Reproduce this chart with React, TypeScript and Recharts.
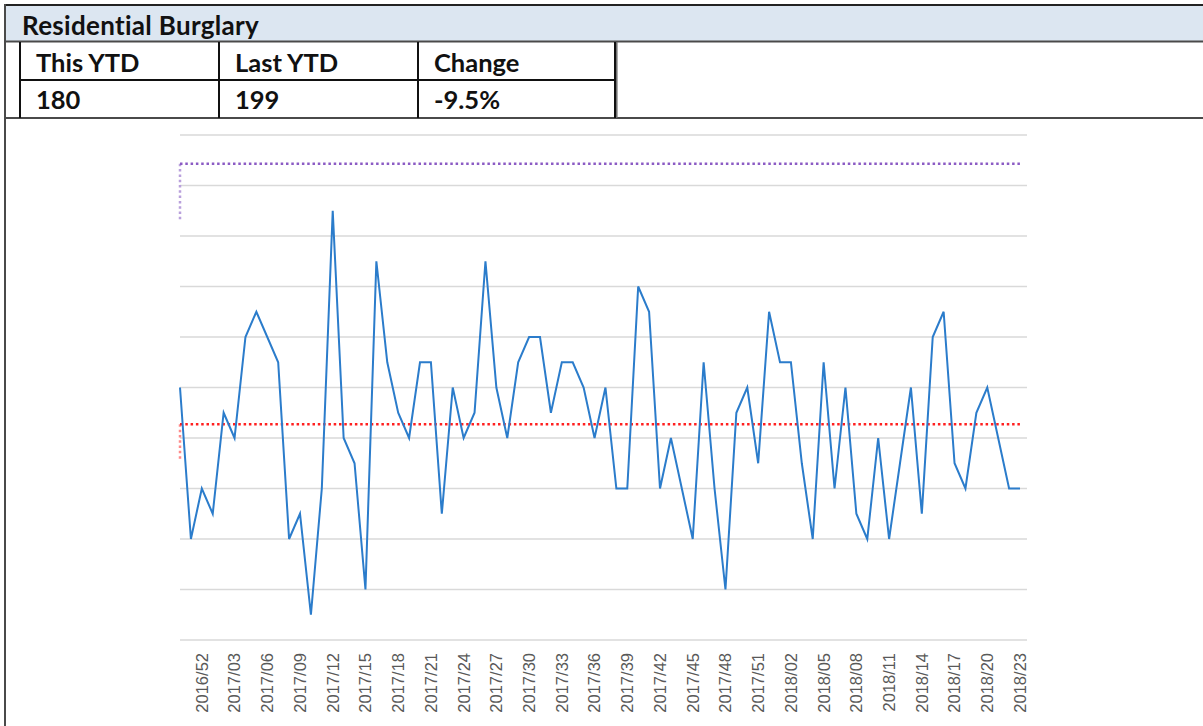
import { LineChart, Line, XAxis, YAxis, CartesianGrid, ReferenceLine } from "recharts";

const weeks = [
  "2016/50", "2016/51", "2016/52",
  "2017/01", "2017/02", "2017/03", "2017/04", "2017/05", "2017/06", "2017/07", "2017/08", "2017/09", "2017/10",
  "2017/11", "2017/12", "2017/13", "2017/14", "2017/15", "2017/16", "2017/17", "2017/18", "2017/19", "2017/20",
  "2017/21", "2017/22", "2017/23", "2017/24", "2017/25", "2017/26", "2017/27", "2017/28", "2017/29", "2017/30",
  "2017/31", "2017/32", "2017/33", "2017/34", "2017/35", "2017/36", "2017/37", "2017/38", "2017/39", "2017/40",
  "2017/41", "2017/42", "2017/43", "2017/44", "2017/45", "2017/46", "2017/47", "2017/48", "2017/49", "2017/50",
  "2017/51", "2017/52",
  "2018/01", "2018/02", "2018/03", "2018/04", "2018/05", "2018/06", "2018/07", "2018/08", "2018/09", "2018/10",
  "2018/11", "2018/12", "2018/13", "2018/14", "2018/15", "2018/16", "2018/17", "2018/18", "2018/19", "2018/20",
  "2018/21", "2018/22", "2018/23",
];

const burglaries = [
  10, 4, 6, 5, 9, 8, 12, 13, 12, 11, 4, 5, 1, 6, 17, 8, 7, 2, 15, 11, 9, 8, 11, 11, 5, 10,
  8, 9, 15, 10, 8, 11, 12, 12, 9, 11, 11, 10, 8, 10, 6, 6, 14, 13, 6, 8, 6, 4, 11, 6, 2, 9,
  10, 7, 13, 11, 11, 7, 4, 11, 6, 10, 5, 4, 8, 4, 7, 10, 5, 12, 13, 7, 6, 9, 10, 8, 6, 6,
];

const shownTicks = [
  "2016/52", "2017/03", "2017/06", "2017/09", "2017/12", "2017/15", "2017/18", "2017/21", "2017/24", "2017/27",
  "2017/30", "2017/33", "2017/36", "2017/39", "2017/42", "2017/45", "2017/48", "2017/51", "2018/02", "2018/05",
  "2018/08", "2018/11", "2018/14", "2018/17", "2018/20", "2018/23",
];

const yTicks = [0, 2, 4, 6, 8, 10, 12, 14, 16, 18, 20];

const meanValue = 8.54;
const upperLimit = 18.86;
const meanStubEnd = 7.1;
const upperStubEnd = 16.6;

const headers = ["This YTD", "Last YTD", "Change"];
const values = ["180", "199", "-9.5%"];

const chartData = weeks.map((week, i) => ({ week, count: burglaries[i] }));

const first = weeks[0];
const last = weeks[weeks.length - 1];

function WeekTick(props: any) {
  const { x, y, payload } = props;
  if (!shownTicks.includes(payload.value)) return <g />;
  return (
    <text
      transform={`translate(${x},${y + 13}) rotate(-90)`}
      textAnchor="end"
      dy="0.36em"
      fill="#595959"
      fontSize={16.5}
      fontFamily="'Liberation Sans', Arial, sans-serif"
    >
      {payload.value}
    </text>
  );
}

const colX = [20, 219, 418, 615];
const headFont = { fontFamily: "Lato, sans-serif", fontWeight: 700, fill: "#111", fontVariantLigatures: "none" } as const;

function Header() {
  return (
    <svg width={1203} height={126} style={{ position: "absolute", left: 0, top: 0 }}>
      <rect x={5} y={5} width={1198} height={36} fill="#dce6f1" />
      <line x1={4} y1={5} x2={1203} y2={5} stroke="#222" strokeWidth={2} />
      <line x1={4} y1={41.5} x2={1203} y2={41.5} stroke="#4a4a4a" strokeWidth={2} />
      <line x1={4} y1={118} x2={1203} y2={118} stroke="#4a4a4a" strokeWidth={2} />
      <line x1={616.8} y1={42} x2={616.8} y2={118} stroke="#6a6a6a" strokeWidth={1.5} />
      {colX.map((x) => (
        <line key={x} x1={x} y1={42} x2={x} y2={118} stroke="#111" strokeWidth={2} />
      ))}
      <line x1={19} y1={80} x2={616} y2={80} stroke="#111" strokeWidth={2} />
      <text x={22} y={35} fontSize={26} letterSpacing={0.3} style={headFont}>
        Residential Burglary
      </text>
      {headers.map((h, i) => (
        <text key={h} x={colX[i] + 16} y={72} fontSize={25.5} style={headFont}>
          {h}
        </text>
      ))}
      {values.map((v, i) => (
        <text key={i} x={colX[i] + 16} y={109} fontSize={25.5} style={headFont}>
          {v}
        </text>
      ))}
    </svg>
  );
}

export default function App() {
  return (
    <div
      style={{
        position: "absolute",
        left: 0,
        top: 0,
        width: 1203,
        height: 726,
        overflow: "hidden",
        background: "#fff",
      }}
    >
      <Header />
      <div style={{ position: "absolute", left: 0, top: 118 }}>
        <LineChart
          width={1203}
          height={608}
          data={chartData}
          margin={{ top: 17, right: 176, bottom: 6, left: 180 }}
        >
          <CartesianGrid vertical={false} stroke="#d9d9d9" strokeWidth={1.3} />
          <XAxis
            dataKey="week"
            interval={0}
            tick={<WeekTick />}
            tickLine={false}
            axisLine={false}
            tickSize={0}
            tickMargin={0}
            height={80}
            padding={{ left: 0, right: 7 }}
          />
          <YAxis hide domain={[0, 20]} ticks={yTicks} />
          <ReferenceLine
            segment={[{ x: first, y: upperLimit }, { x: first, y: upperStubEnd }]}
            stroke="#b9a0dc"
            strokeWidth={2.5}
            strokeDasharray="2.5 2.8"
          />
          <ReferenceLine
            segment={[{ x: first, y: meanValue }, { x: first, y: meanStubEnd }]}
            stroke="#ff8a8a"
            strokeWidth={2.5}
            strokeDasharray="2.5 2.8"
          />
          <ReferenceLine
            segment={[{ x: first, y: upperLimit }, { x: last, y: upperLimit }]}
            stroke="#8b5bc4"
            strokeWidth={2.5}
            strokeDasharray="2.5 2.8"
          />
          <ReferenceLine
            segment={[{ x: first, y: meanValue }, { x: last, y: meanValue }]}
            stroke="#ff2020"
            strokeWidth={2.5}
            strokeDasharray="2.5 2.8"
          />
          <Line
            type="linear"
            dataKey="count"
            stroke="#2b7ccb"
            strokeWidth={2}
            dot={false}
            isAnimationActive={false}
          />
        </LineChart>
      </div>
      <div style={{ position: "absolute", left: 4, top: 4, width: 2, height: 722, background: "#4a4a4a" }} />
    </div>
  );
}
